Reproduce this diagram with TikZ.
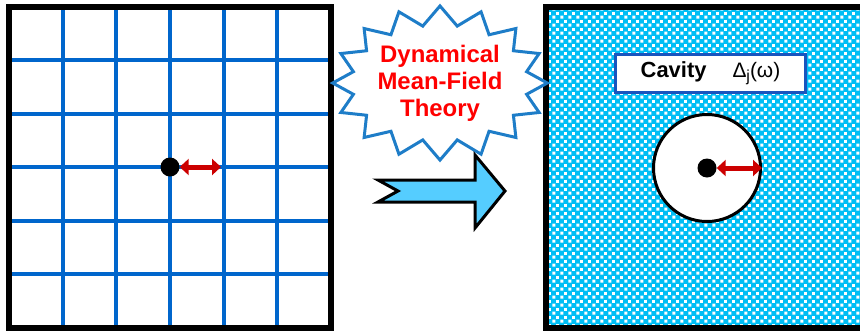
\documentclass[tikz,border=0pt]{standalone}
\usepackage{fontspec}
\setmainfont{Liberation Sans}
\setsansfont{Liberation Sans}
\usetikzlibrary{
  arrows.meta,
  positioning,
  shapes.symbols,
  patterns
}
\definecolor{lattice}{RGB}{0,102,204}
\definecolor{bath}{RGB}{0,190,245}
\definecolor{flow}{RGB}{85,205,255}
\definecolor{burst}{RGB}{30,125,200}
\definecolor{hop}{RGB}{204,0,0}
\definecolor{cavline}{RGB}{25,85,190}

% white squares of the bath
\pgfdeclarepatternformonly{bathdots}{\pgfpointorigin}{\pgfpoint{8bp}{8bp}}{\pgfpoint{8bp}{8bp}}{
  \pgfpathrectangle{\pgfpoint{0.5bp}{0.5bp}}{\pgfpoint{3.3bp}{3.3bp}}
  \pgfpathrectangle{\pgfpoint{4.5bp}{4.5bp}}{\pgfpoint{3.3bp}{3.3bp}}
  \pgfusepath{fill}
}

\begin{document}
\begin{tikzpicture}[
  x=1bp, y=-1bp,
  every node/.style={font=\sffamily},
  frame/.style={draw=black, line width=6bp},
  gridline/.style={draw=lattice, line width=4bp},
  site/.style={circle, fill=black, minimum size=19bp, inner sep=0pt},
  hopping/.style={draw=hop, line width=5bp,
                  {Triangle[length=9bp,width=16bp]}-{Triangle[length=9bp,width=16bp]}},
  dmft/.style={starburst, starburst points=16, random starburst=0,
               starburst point height=19bp, inner xsep=0pt, inner ysep=3bp,
               draw=burst, fill=white, line width=3bp, text=red, align=center,
               font=\sffamily\bfseries\fontsize{24}{27}\selectfont},
  cavbox/.style={draw=cavline, fill=white, line width=3bp,
                 minimum width=190bp, minimum height=38bp,
                 font=\sffamily\fontsize{22}{24}\selectfont},
]
\useasboundingbox (0,0) rectangle (860,330);

% lattice
\foreach \k in {1,...,5} {
  \draw[gridline] (9+\k*53.67,6.5) -- (9+\k*53.67,327.5);
  \draw[gridline] (9,6.5+\k*53.5) -- (331,6.5+\k*53.5);
}
\draw[frame] (9,6.5) rectangle (331,327.5);
\node[site] (site) at (170,167) {};
\coordinate (hopend) at (221,167);
\draw[hopping] (site.east) -- (hopend);

% effective medium
\draw[frame, preaction={fill=bath}, pattern=bathdots, pattern color=white]
  (546,7) rectangle (890,327.5);
\node[cavbox] (cavlabel) at (710.5,73.5)
  {\textbf{Cavity}\hspace{26bp}{\fontsize{21}{22}\selectfont Δ\raisebox{-4bp}{\fontsize{16}{16}\selectfont j}(ω)}};
\node[circle, draw=black, fill=white, line width=3bp, minimum size=107bp] (cavity) at (707,168) {};
\node[site] (impurity) at (cavity.center) {};
\draw[hopping] (impurity.east) -- (cavity.east);

% mapping
\node[dmft] (theory) at (440,83) {Dynamical\\Mean-Field\\Theory};
\draw[fill=flow, draw=black, line width=3bp, line join=miter]
  (378,180) -- (475,180) -- (475,155) -- (505,191) -- (475,228) -- (475,202)
  -- (378,202) -- (398,191) -- cycle;

\end{tikzpicture}
\end{document}
